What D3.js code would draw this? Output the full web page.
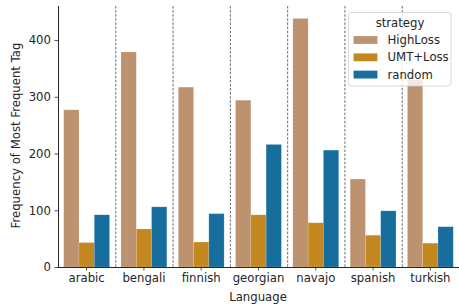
<!DOCTYPE html>
<html>
<head>
<meta charset="utf-8">
<script src="https://cdn.jsdelivr.net/npm/d3@7"></script>
<style>
    body { margin: 0; background: #fff; }
    text { font-family: "DejaVu Sans", sans-serif; fill: #262626; }
</style>
</head>
<body>
<div id="chart"></div>
<script>
var languages = ["arabic", "bengali", "finnish", "georgian", "navajo", "spanish", "turkish"];
var strategies = ["HighLoss", "UMT+Loss", "random"];
var highLoss = [277, 379, 317, 294, 438, 155, 330];
var umtLoss = [43, 67, 44, 92, 78, 56, 42];
var random = [92, 106, 94, 216, 206, 99, 71];
var yTicks = [0, 100, 200, 300, 400];
var colors = ["#bd926e", "#c38820", "#176d9c"];

var series = [highLoss, umtLoss, random];
var rows = [];
languages.forEach(function(lang, i) {
    strategies.forEach(function(s, j) {
        rows.push({lang: lang, strategy: s, value: series[j][i]});
    });
});

var width = 459, height = 304;
var margin = {top: 6, right: 0, bottom: 37, left: 58};
var fontSize = "11.7px";

var svg = d3.select("#chart").append("svg")
    .attr("width", width)
    .attr("height", height);

var x = d3.scaleBand().domain(languages).range([margin.left, width - margin.right]).paddingInner(0).paddingOuter(0);
var xInner = d3.scaleBand().domain(strategies).range([0, x.bandwidth() * 0.8]);
var y = d3.scaleLinear().domain([0, 460]).range([height - margin.bottom, margin.top]);
var color = d3.scaleOrdinal().domain(strategies).range(colors);

// dashed separators between languages
svg.append("g")
    .selectAll("line")
    .data(languages.slice(1))
    .enter()
    .append("line")
        .attr("x1", function(d) { return x(d) + 0.5; })
        .attr("x2", function(d) { return x(d) + 0.5; })
        .attr("y1", margin.top)
        .attr("y2", height - margin.bottom)
        .style("stroke", "#444")
        .style("stroke-width", 0.8)
        .style("stroke-dasharray", "2.5,1.6");

// bars
svg.append("g")
    .selectAll("rect")
    .data(rows)
    .enter()
    .append("rect")
        .attr("x", function(d) { return x(d.lang) + x.bandwidth() * 0.1 + xInner(d.strategy); })
        .attr("y", function(d) { return y(d.value); })
        .attr("width", xInner.bandwidth())
        .attr("height", function(d) { return y(0) - y(d.value); })
        .style("fill", function(d) { return color(d.strategy); })
        .style("stroke", "rgba(255,255,255,0.25)")
        .style("stroke-width", 0.6);

// axes
var yAxis = svg.append("g")
    .attr("transform", "translate(" + margin.left + ",0)")
    .call(d3.axisLeft(y).tickValues(yTicks).tickSize(3.5).tickPadding(3.5));

var xAxis = svg.append("g")
    .attr("transform", "translate(0," + (height - margin.bottom) + ")")
    .call(d3.axisBottom(x).tickSize(3.5).tickPadding(3.5));

[xAxis, yAxis].forEach(function(a) {
    a.select(".domain").style("stroke", "#262626").style("stroke-width", 1);
    a.selectAll(".tick line").style("stroke", "#262626").style("stroke-width", 0.8);
    a.selectAll(".tick text").style("font-size", fontSize).style("fill", "#262626")
        .style("font-family", "DejaVu Sans, sans-serif");
});
yAxis.select(".domain").attr("d", "M0.5," + margin.top + "V" + (height - margin.bottom + 0.5));
xAxis.select(".domain").attr("d", "M" + margin.left + ",0.5H" + (width - margin.right));

// axis labels
svg.append("text")
    .attr("x", (margin.left + width) / 2 - 0.5)
    .attr("y", 301)
    .attr("text-anchor", "middle")
    .style("font-size", fontSize)
    .text("Language");

svg.append("text")
    .attr("transform", "translate(20," + ((margin.top + height - margin.bottom) / 2 - 1) + ") rotate(-90)")
    .attr("text-anchor", "middle")
    .style("font-size", fontSize)
    .text("Frequency of Most Frequent Tag");

// legend
var legend = svg.append("g").attr("transform", "translate(348.5,12.5)");
legend.append("rect")
    .attr("width", 102.5)
    .attr("height", 73.5)
    .attr("rx", 3)
    .attr("ry", 3)
    .style("fill", "rgba(255,255,255,0.8)")
    .style("stroke", "#d0d0d0")
    .style("stroke-width", 0.8);

legend.append("text")
    .attr("x", 51.5)
    .attr("y", 14)
    .attr("text-anchor", "middle")
    .style("font-size", fontSize)
    .text("strategy");

var items = legend.selectAll(".item")
    .data(strategies)
    .enter()
    .append("g")
        .classed("item", true)
        .attr("transform", function(d, i) { return "translate(5," + (23.5 + i * 17.3) + ")"; });

items.append("rect")
    .attr("width", 24)
    .attr("height", 8)
    .style("fill", color)
    .style("stroke", "rgba(255,255,255,0.25)")
    .style("stroke-width", 0.6);

items.append("text")
    .attr("x", 34)
    .attr("y", 4)
    .attr("dy", "0.35em")
    .style("font-size", fontSize)
    .text(function(d) { return d; });
</script>
</body>
</html>
